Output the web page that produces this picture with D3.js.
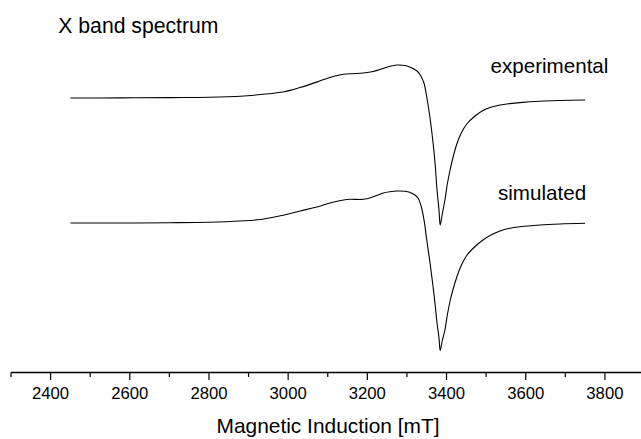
<!DOCTYPE html>
<html>
<head>
<meta charset="utf-8">
<script src="https://cdn.jsdelivr.net/npm/d3@7"></script>
<style>
  html, body { margin: 0; padding: 0; background: #fff; }
  svg { display: block; }
  text { font-family: "Liberation Sans", Arial, sans-serif; fill: #000; }
</style>
</head>
<body>
<svg id="chart" width="641" height="439"></svg>
<script>
// Magnetic field (mT) at which each spectrum is sampled
const field = [2450, 2575, 2700, 2800, 2880, 2930, 2990, 3030, 3075, 3105, 3130, 3155, 3190, 3215, 3240,
  3257, 3275, 3295, 3307, 3320, 3328, 3335, 3343, 3350, 3358, 3366, 3371, 3376, 3381, 3384,
  3389, 3396, 3402, 3409, 3416, 3426, 3436, 3451, 3472, 3492, 3510, 3535, 3560, 3585, 3636, 3686, 3750];

// First-derivative EPR signal, arbitrary units
const experimental = [0, 0.1, 0.4, 0.7, 1.7, 3.5, 6.3, 10.5, 16.3, 20.5, 23, 24.2, 25, 26.5, 29.5,
  31.7, 33, 32.5, 31, 28.5, 26, 22, 15, 1, -19, -45, -65, -92, -112, -127,
  -116.5, -102, -86, -72, -60, -46, -36, -26, -18, -12.5, -9.5, -7, -5.6, -4.6, -3.2, -2.5, -2];

const simulated = [0, 0, 0.3, 0.8, 2, 3.5, 8, 12, 16.3, 20, 22.3, 23.7, 23.7, 26.3, 30,
  31.3, 32, 31.7, 30.7, 28, 25, 18, 3.3, -17, -39, -63.7, -81, -100, -115, -127.7,
  -118, -107, -92, -78, -67, -54, -43.5, -32.5, -23.5, -17, -12.5, -8, -5.3, -3.8, -2, -1, -0.3];

const majorTicks = [2400, 2600, 2800, 3000, 3200, 3400, 3600, 3800];
const minorTicks = [2300, 2500, 2700, 2900, 3100, 3300, 3500, 3700];

const svg = d3.select("#chart");

const x = d3.scaleLinear().domain([2300, 3900]).range([11, 644.5]);
const y = d3.scaleLinear().domain([-260, 100]).range([358, -2]);

// vertical stacking of the two traces
const traces = [
  { name: "experimental", values: experimental, offset: 0, label: [490.5, 72.5] },
  { name: "simulated", values: simulated, offset: -125, label: [498, 199.5] }
];

const line = d3.line()
  .x(d => x(d[0]))
  .y(d => y(d[1]))
  .curve(d3.curveCatmullRom.alpha(0.5));

traces.forEach(t => {
  const pts = field.map((f, i) => [f, t.values[i] + t.offset]);
  svg.append("path")
    .datum(pts)
    .attr("fill", "none")
    .attr("stroke", "#000")
    .attr("stroke-width", 1.1)
    .attr("d", line);
  svg.append("text")
    .attr("x", t.label[0])
    .attr("y", t.label[1])
    .style("font-size", "20.6px")
    .text(t.name);
});

// bottom axis
const axisY = 372.5;
const axisG = svg.append("g").attr("transform", `translate(0,${axisY})`);
axisG.append("line")
  .attr("x1", x(2300)).attr("x2", 641)
  .attr("stroke", "#000").attr("stroke-width", 1.3);

axisG.selectAll(".major")
  .data(majorTicks)
  .join("line")
  .attr("x1", d => x(d)).attr("x2", d => x(d))
  .attr("y1", 0).attr("y2", 7.5)
  .attr("stroke", "#000").attr("stroke-width", 1.2);

axisG.selectAll(".minor")
  .data(minorTicks)
  .join("line")
  .attr("x1", d => x(d)).attr("x2", d => x(d))
  .attr("y1", 0).attr("y2", 4.5)
  .attr("stroke", "#000").attr("stroke-width", 1.2);

axisG.selectAll(".lbl")
  .data(majorTicks)
  .join("text")
  .attr("x", d => x(d))
  .attr("y", 26.8)
  .attr("text-anchor", "middle")
  .style("font-size", "16.7px")
  .text(d => d);

svg.append("text")
  .attr("x", 328)
  .attr("y", 433)
  .attr("text-anchor", "middle")
  .style("font-size", "20.9px")
  .text("Magnetic Induction [mT]");

svg.append("text")
  .attr("x", 58.3)
  .attr("y", 33)
  .style("font-size", "21.2px")
  .text("X band spectrum");
</script>
</body>
</html>
